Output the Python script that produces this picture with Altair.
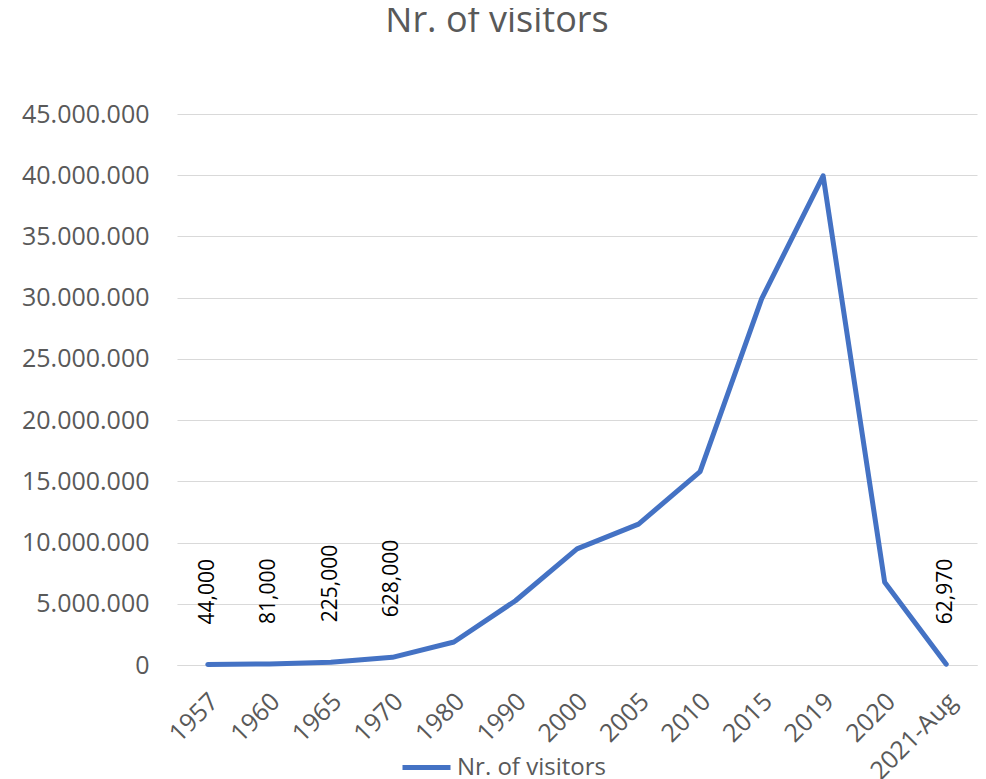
import altair as alt
import pandas as pd

years = ["1957", "1960", "1965", "1970", "1980", "1990", "2000", "2005",
         "2010", "2015", "2019", "2020", "2021-Aug"]
visitors = [44000, 81000, 225000, 628000, 1880000, 5250000, 9480000,
            11500000, 15800000, 29900000, 39950000, 6750000, 62970]
labels = ["44,000", "81,000", "225,000", "628,000", "", "", "", "", "", "", "", "", "62,970"]
series = "Nr. of visitors"

df = pd.DataFrame({"year": years, "visitors": visitors, "label": labels,
                   "series": [series] * len(years)})

FONT = "Open Sans"
GREY = "#595959"

x = alt.X("year:N", sort=years, title=None,
          scale=alt.Scale(type="point", padding=0.5),
          axis=alt.Axis(labelAngle=-45, labelAlign="right", labelBaseline="middle",
                        labelPadding=32, labelOffset=6, ticks=False, grid=False,
                        domainColor="#d9d9d9", domainWidth=1,
                        labelFont=FONT, labelFontSize=25, labelColor=GREY))
y = alt.Y("visitors:Q", title=None,
          scale=alt.Scale(domain=[0, 45000000], nice=False),
          axis=alt.Axis(values=list(range(0, 45000001, 5000000)),
                        labelExpr="replace(replace(format(datum.value, ','), ',', '.'), ',', '.')",
                        domain=False, ticks=False, grid=True, gridColor="#d9d9d9",
                        labelPadding=28, labelFont=FONT, labelFontSize=25,
                        labelColor=GREY))

line = alt.Chart(df).mark_line(strokeWidth=5, strokeCap="round", strokeJoin="round").encode(
    x=x, y=y,
    color=alt.Color("series:N", title=None,
                    scale=alt.Scale(domain=[series], range=["#4472C4"]),
                    legend=alt.Legend(orient="none", legendX=223, legendY=627,
                                      symbolType="stroke", symbolSize=2304,
                                      symbolStrokeWidth=5, labelFont=FONT,
                                      labelFontSize=24, labelColor=GREY,
                                      labelOffset=4))
)

text = alt.Chart(df).mark_text(angle=270, align="left", baseline="middle", dx=40,
                               font=FONT, fontSize=21, color="black").encode(
    x=x, y=y, text="label:N"
)

chart = (line + text).properties(
    width=800, height=551,
    autosize=alt.AutoSizeParams(type="none"),
    padding={"left": 169, "top": 106, "right": 1, "bottom": 114},
    title=alt.Title(series, font=FONT, fontSize=36, fontWeight="normal",
                    color=GREY, anchor="middle", dx=-80, offset=62)
).configure_view(stroke=None)

chart.save("out.html", embed_options={"renderer": "svg", "actions": False})
